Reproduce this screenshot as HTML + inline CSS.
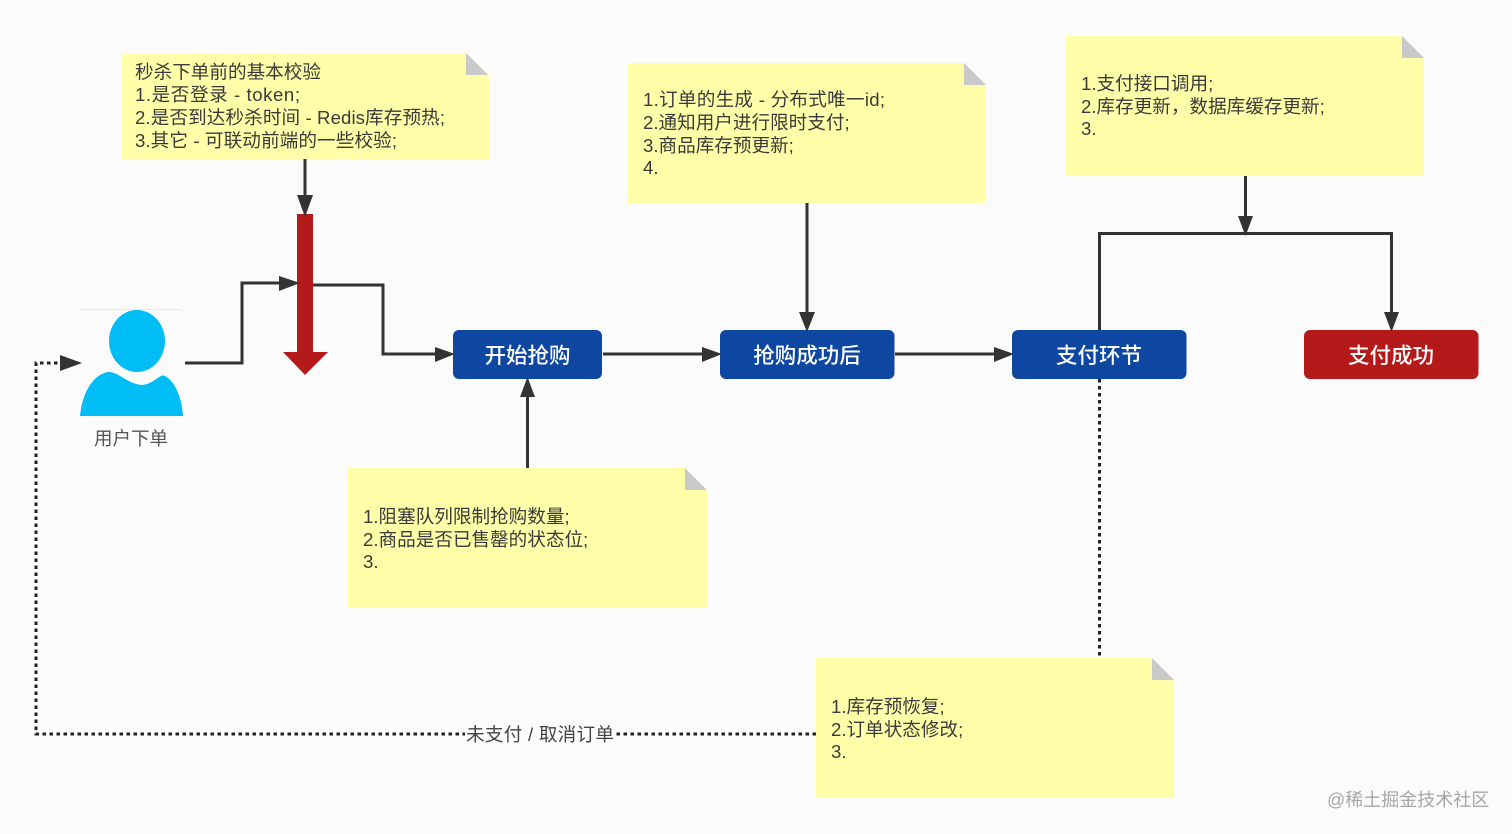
<!DOCTYPE html>
<html><head><meta charset="utf-8"><style>
html,body{margin:0;padding:0;background:#fbfbfb;width:1512px;height:834px;overflow:hidden}
svg{display:block}
text{font-family:"Liberation Sans","Noto Sans CJK SC",sans-serif}
.n{font-size:18.6px;fill:#3a3a3a}
.b{font-size:21.5px;fill:#fff;text-anchor:middle;font-weight:500}
.l{fill:none;stroke:#333;stroke-width:3}
.d{fill:none;stroke:#222;stroke-width:3;stroke-dasharray:3.5 3.5}
.a{fill:#333}
.y{fill:#ffffa9}
.c{fill:#c9c9c9}
</style></head><body>
<svg width="1512" height="834" viewBox="0 0 1512 834" xmlns="http://www.w3.org/2000/svg">
<rect width="1512" height="834" fill="#fbfbfb"/>

<!-- connectors -->
<path class="l" d="M185 363H242V283H285"/>
<path class="l" d="M313 285H383V354H440"/>
<path class="l" d="M305 159V200"/>
<path class="l" d="M603 354H706"/>
<path class="l" d="M895 354H998"/>
<path class="l" d="M527.500 468V392"/>
<path class="l" d="M807 203V316"/>
<path class="l" d="M1245.500 176V220"/>
<path class="l" d="M1099.500 330V233.500H1391.500V316"/>
<path class="d" d="M1099.500 379V658"/>
<path class="d" d="M816 734H36V363H62"/>

<!-- red arrow -->
<polygon fill="#b41a1a" points="297,214 313,214 313,352 328,352 305,375 283,352 297,352"/>

<!-- user -->
<line x1="80" y1="309.500" x2="181" y2="309.500" stroke="#d5eef5" stroke-width="1"/>
<ellipse cx="137" cy="341" rx="28" ry="31" fill="#00bdf6"/>
<path fill="#00bdf6" d="M80 416C82 394 92 375 108 372C118 371 127 384 142 385C154 384 160 373 165 376C175 381 182 398 183 416Z"/>
<text x="131" y="445" font-size="18.500" fill="#555" text-anchor="middle">用户下单</text>

<!-- buttons -->
<rect x="453" y="330" width="149" height="49" rx="6" fill="#0d47a1"/>
<text class="b" x="527.500" y="363">开始抢购</text>
<rect x="720" y="330" width="174.500" height="49" rx="6" fill="#0d47a1"/>
<text class="b" x="807" y="363">抢购成功后</text>
<rect x="1012" y="330" width="174.500" height="49" rx="6" fill="#0d47a1"/>
<text class="b" x="1099" y="363">支付环节</text>
<rect x="1304" y="330" width="174.500" height="49" rx="6" fill="#b41a1a"/>
<text class="b" x="1391" y="363">支付成功</text>

<!-- arrowheads -->
<polygon class="a" points="297,195 313,195 305,217"/>
<polygon class="a" points="279,276 279,291 300,283"/>
<polygon class="a" points="435,347 435,362 455,354"/>
<polygon class="a" points="702,347 702,362 722,354"/>
<polygon class="a" points="994,347 994,362 1014,354"/>
<polygon class="a" points="520,397 535,397 527.500,377"/>
<polygon class="a" points="799,312 815,312 807,332"/>
<polygon class="a" points="1238,216 1253,216 1245.500,236"/>
<polygon class="a" points="1384,312 1399,312 1391.500,332"/>
<polygon class="a" points="60,355 60,371 82,363"/>

<!-- note 1 -->
<polygon class="y" points="121,53 466,53 489,75 489,159 121,159"/>
<polygon class="c" points="466,53 488,75 466,75"/>
<text class="n" x="135" y="78.500">秒杀下单前的基本校验</text>
<text class="n" x="135" y="101" textLength="165">1.是否登录 - token;</text>
<text class="n" x="135" y="124" textLength="310">2.是否到达秒杀时间 - Redis库存预热;</text>
<text class="n" x="135" y="147" textLength="262">3.其它 - 可联动前端的一些校验;</text>

<!-- note 2 -->
<polygon class="y" points="628,63 964,63 986,85 986,203 628,203"/>
<polygon class="c" points="964,63 986,85 964,85"/>
<text class="n" x="643" y="106" textLength="242">1.订单的生成 - 分布式唯一id;</text>
<text class="n" x="643" y="129">2.通知用户进行限时支付;</text>
<text class="n" x="643" y="152">3.商品库存预更新;</text>
<text class="n" x="643" y="174">4.</text>

<!-- note 3 -->
<polygon class="y" points="1066,36 1402,36 1424,58 1424,176 1066,176"/>
<polygon class="c" points="1402,36 1424,58 1402,58"/>
<text class="n" x="1081" y="90">1.支付接口调用;</text>
<text class="n" x="1081" y="113">2.库存更新，数据库缓存更新;</text>
<text class="n" x="1081" y="135">3.</text>

<!-- note 4 -->
<polygon class="y" points="348,468 685,468 707,490 707,608 348,608"/>
<polygon class="c" points="685,468 707,490 685,490"/>
<text class="n" x="363" y="523">1.阻塞队列限制抢购数量;</text>
<text class="n" x="363" y="546">2.商品是否已售罄的状态位;</text>
<text class="n" x="363" y="568">3.</text>

<!-- note 5 -->
<polygon class="y" points="816,658 1152,658 1174,680 1174,798 816,798"/>
<polygon class="c" points="1152,658 1174,680 1152,680"/>
<text class="n" x="831" y="713">1.库存预恢复;</text>
<text class="n" x="831" y="736">2.订单状态修改;</text>
<text class="n" x="831" y="758">3.</text>

<!-- dashed label -->
<rect x="465" y="722" width="150" height="24" fill="#fbfbfb"/>
<text x="466" y="741" font-size="18.600" fill="#444" textLength="148">未支付 / 取消订单</text>

<!-- watermark -->
<text x="1327" y="806" font-size="18" fill="#a6a6a6">@稀土掘金技术社区</text>
</svg>
</body></html>
